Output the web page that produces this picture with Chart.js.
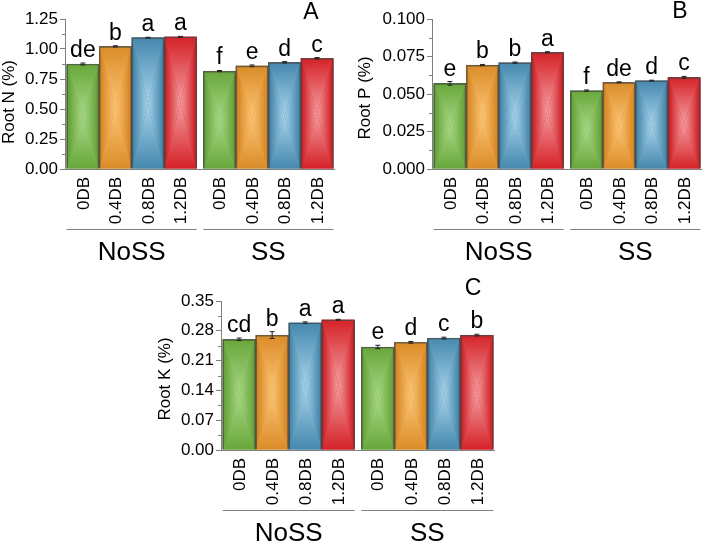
<!DOCTYPE html>
<html lang="en">
<head>
<meta charset="UTF-8">
<title>Root N, P and K</title>
<script src="https://cdn.jsdelivr.net/npm/chart.js"></script>
<style>
  body { margin: 0; background: #fff; }
  #wrap { position: relative; width: 706px; height: 542px; overflow: hidden; }
  canvas { position: absolute; }
</style>
</head>
<body>
<div id="wrap">
  <canvas id="chartN" width="345" height="270" style="left:0;top:0"></canvas>
  <canvas id="chartP" width="361" height="270" style="left:345px;top:0"></canvas>
  <canvas id="chartK" width="370" height="272" style="left:150px;top:270px"></canvas>
</div>
<script>
// groups and treatments (same order in every panel: NoSS x4, then SS x4)
const groups = ['NoSS', 'SS'];
const categories = ['0DB', '0.4DB', '0.8DB', '1.2DB'];

const rootN = [0.875, 1.022, 1.095, 1.102, 0.816, 0.860, 0.889, 0.923];
const rootNErr = [0.008, 0.005, 0.003, 0.003, 0.005, 0.007, 0.006, 0.006];
const rootNLetters = ['de', 'b', 'a', 'a', 'f', 'e', 'd', 'c'];
const rootNTicks = [0, 0.25, 0.5, 0.75, 1.0, 1.25];

const rootP = [0.0571, 0.0693, 0.0709, 0.0778, 0.0522, 0.0578, 0.0589, 0.0611];
const rootPErr = [0.0012, 0.0004, 0.0004, 0.0004, 0.0005, 0.0003, 0.0003, 0.0006];
const rootPLetters = ['e', 'b', 'b', 'a', 'f', 'de', 'd', 'c'];
const rootPTicks = [0, 0.025, 0.05, 0.075, 0.1];

const rootK = [0.260, 0.270, 0.299, 0.306, 0.242, 0.253, 0.263, 0.270];
const rootKErr = [0.003, 0.008, 0.002, 0.001, 0.004, 0.002, 0.002, 0.002];
const rootKLetters = ['cd', 'b', 'a', 'a', 'e', 'd', 'c', 'b'];
const rootKTicks = [0, 0.07, 0.14, 0.21, 0.28, 0.35];

const barColors = [
  { edge: '#5d9c2f', mid: '#68a73a', light: '#a8d887' },
  { edge: '#d27f18', mid: '#db8c28', light: '#fcc575' },
  { edge: '#3a7ca3', mid: '#4688ae', light: '#a6d3ea' },
  { edge: '#cb141a', mid: '#d42228', light: '#f59c9f' }
];

const FONT = '"Liberation Sans", Arial, sans-serif';
const GROUP_GAP = 0.2;

function tri(ctx, pts, grad, c0, c1) {
  grad.addColorStop(0, c0);
  grad.addColorStop(1, c1);
  ctx.fillStyle = grad;
  ctx.beginPath();
  ctx.moveTo(pts[0][0], pts[0][1]);
  ctx.lineTo(pts[1][0], pts[1][1]);
  ctx.lineTo(pts[2][0], pts[2][1]);
  ctx.closePath();
  ctx.fill();
}

const panelDecor = {
  id: 'panelDecor',
  beforeDatasetsDraw(chart) {
    const ctx = chart.ctx;
    ctx.save();
    chart.getDatasetMeta(0).data.forEach((el, i) => {
      const c = barColors[i % 4];
      const l = el.x - el.width / 2, r = el.x + el.width / 2;
      const t = el.y, b = el.base;
      const cx = el.x, cy = (t + b) / 2;
      ctx.fillStyle = c.edge;
      ctx.fillRect(l, t, r - l, b - t);
      tri(ctx, [[l, t], [l, b], [cx, cy]], ctx.createLinearGradient(l, 0, cx, 0), c.edge, c.light);
      tri(ctx, [[r, t], [r, b], [cx, cy]], ctx.createLinearGradient(r, 0, cx, 0), c.edge, c.light);
      tri(ctx, [[l, t], [r, t], [cx, cy]], ctx.createLinearGradient(0, t, 0, cy), c.mid, c.light);
      tri(ctx, [[l, b], [r, b], [cx, cy]], ctx.createLinearGradient(0, b, 0, cy), c.mid, c.light);
    });
    ctx.restore();
  },
  afterDraw(chart) {
    const p = chart.options.plugins.panelDecor;
    const ctx = chart.ctx;
    const area = chart.chartArea;
    const y = chart.scales.y;
    const meta = chart.getDatasetMeta(0);
    ctx.save();

    // bottom axis line
    ctx.strokeStyle = '#808080';
    ctx.lineWidth = 1;
    ctx.beginPath();
    ctx.moveTo(area.left, Math.round(area.bottom) + 0.5);
    ctx.lineTo(area.right, Math.round(area.bottom) + 0.5);
    ctx.stroke();

    // minor ticks
    for (let i = 0; i < p.ticks.length - 1; i++) {
      const py = Math.round(y.getPixelForValue((p.ticks[i] + p.ticks[i + 1]) / 2)) + 0.5;
      ctx.beginPath();
      ctx.moveTo(area.left - 3, py);
      ctx.lineTo(area.left, py);
      ctx.stroke();
    }

    // error bars and letters
    meta.data.forEach((el, i) => {
      const v = p.values[i], e = p.errors[i];
      const yHi = y.getPixelForValue(v + e), yLo = y.getPixelForValue(v - e);
      ctx.strokeStyle = '#222';
      ctx.beginPath();
      ctx.moveTo(el.x, yHi); ctx.lineTo(el.x, yLo);
      ctx.moveTo(el.x - 2.5, yHi); ctx.lineTo(el.x + 2.5, yHi);
      ctx.moveTo(el.x - 2.5, yLo); ctx.lineTo(el.x + 2.5, yLo);
      ctx.stroke();

      ctx.fillStyle = '#000';
      ctx.font = '23px ' + FONT;
      ctx.textAlign = 'center';
      ctx.textBaseline = 'alphabetic';
      ctx.fillText(p.letters[i], el.x, yHi - 6);

      // rotated category labels
      ctx.save();
      ctx.translate(el.x, area.bottom + 8);
      ctx.rotate(-Math.PI / 2);
      ctx.font = '17px ' + FONT;
      ctx.textAlign = 'right';
      ctx.textBaseline = 'middle';
      ctx.fillText(categories[i % 4], 0, 1);
      ctx.restore();
    });

    // group lines and labels
    groups.forEach((g, gi) => {
      const first = meta.data[gi * 4], last = meta.data[gi * 4 + 3];
      const x0 = first.x - first.width / 2, x1 = last.x + last.width / 2;
      ctx.strokeStyle = '#808080';
      ctx.beginPath();
      ctx.moveTo(x0, area.bottom + 60.5);
      ctx.lineTo(x1, area.bottom + 60.5);
      ctx.stroke();
      ctx.fillStyle = '#000';
      ctx.font = '26px ' + FONT;
      ctx.textAlign = 'center';
      ctx.textBaseline = 'alphabetic';
      ctx.fillText(g, (x0 + x1) / 2, area.bottom + 91);
    });

    // y title
    ctx.save();
    ctx.translate(p.titleX, p.titleY);
    ctx.rotate(-Math.PI / 2);
    ctx.font = '17px ' + FONT;
    ctx.textAlign = 'center';
    ctx.textBaseline = 'middle';
    ctx.fillText(p.title, 0, 0);
    ctx.restore();

    // panel letter
    ctx.font = '23px ' + FONT;
    ctx.textAlign = 'center';
    ctx.textBaseline = 'alphabetic';
    ctx.fillText(p.panel, p.panelX, p.panelY);
    ctx.restore();
  }
};

function makePanel(cfg) {
  const points = cfg.values.map((v, i) => ({
    x: Math.floor(i / 4) * (4 + GROUP_GAP) + (i % 4),
    y: v
  }));
  return new Chart(document.getElementById(cfg.id), {
    type: 'bar',
    data: {
      datasets: [{
        data: points,
        backgroundColor: 'rgba(0,0,0,0)',
        borderColor: 'rgba(70,70,70,0.7)',
        borderWidth: 1,
        categoryPercentage: 1,
        barPercentage: 1
      }]
    },
    options: {
      responsive: false,
      animation: false,
      events: [],
      layout: { padding: cfg.padding },
      plugins: {
        legend: { display: false },
        tooltip: { enabled: false },
        panelDecor: {
          values: cfg.values, errors: cfg.errors, letters: cfg.letters, ticks: cfg.ticks,
          title: cfg.title, titleX: cfg.titleX, titleY: cfg.titleY,
          panel: cfg.panel, panelX: cfg.panelX, panelY: cfg.panelY
        }
      },
      scales: {
        x: {
          type: 'linear', display: false, offset: false, min: -0.55, max: 7.75,
          // keep only the end ticks so bar width comes from the data spacing
          afterBuildTicks: s => { s.ticks = [{ value: -0.55 }, { value: 7.75 }]; }
        },
        y: {
          min: 0,
          max: cfg.ticks[cfg.ticks.length - 1],
          afterFit: s => { s.width = cfg.yWidth; },
          afterBuildTicks: s => { s.ticks = cfg.ticks.map(v => ({ value: v })); },
          border: { display: true, color: '#808080', width: 1 },
          grid: { drawOnChartArea: false, drawTicks: true, tickLength: 5, color: '#808080' },
          ticks: {
            color: '#000',
            padding: 2,
            font: { family: FONT, size: 17 },
            callback: v => Number(v).toFixed(cfg.decimals)
          }
        }
      }
    },
    plugins: [panelDecor]
  });
}

makePanel({
  id: 'chartN', values: rootN, errors: rootNErr, letters: rootNLetters, ticks: rootNTicks,
  decimals: 2, title: 'Root N (%)', titleX: 9, titleY: 102,
  panel: 'A', panelX: 311, panelY: 19,
  yWidth: 65, padding: { top: 19, right: 10, bottom: 101, left: 0 }
});

makePanel({
  id: 'chartP', values: rootP, errors: rootPErr, letters: rootPLetters, ticks: rootPTicks,
  decimals: 3, title: 'Root P (%)', titleX: 20, titleY: 98,
  panel: 'B', panelX: 335, panelY: 18,
  yWidth: 87, padding: { top: 19, right: 4, bottom: 101, left: 0 }
});

makePanel({
  id: 'chartK', values: rootK, errors: rootKErr, letters: rootKLetters, ticks: rootKTicks,
  decimals: 2, title: 'Root K (%)', titleX: 15, titleY: 109,
  panel: 'C', panelX: 323, panelY: 25,
  yWidth: 71, padding: { top: 31, right: 25, bottom: 92, left: 0 }
});
</script>
</body>
</html>
